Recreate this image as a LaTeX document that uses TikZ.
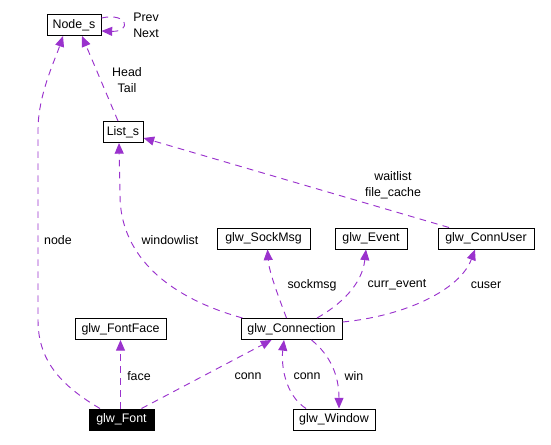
\documentclass[tikz,border=0pt]{standalone}
\usepackage{fontspec}
\setmainfont{Liberation Sans}
\usetikzlibrary{arrows.meta,calc}
\definecolor{edgec}{HTML}{9A32CD}
\begin{document}
\begin{tikzpicture}[x=0.75pt,y=-0.75pt,
  font=\fontsize{9.3}{12}\selectfont,
  cls/.style={draw=black,line width=0.75pt,fill=white,inner sep=0pt,minimum height=15.75pt,anchor=center},
  clsfocus/.style={cls,fill=black,text=white},
  rel/.style={draw=edgec,line width=0.7pt,dash pattern=on 5pt off 4pt,-{Triangle[length=8pt,width=6.75pt,fill=edgec]}},
  lbl/.style={inner sep=0pt,align=center}]
\useasboundingbox (0,0) rectangle (551,444);
% classes
\node[cls,minimum width=40.5pt] (Node_s) at (74,25) {Node\_s};
\node[cls,minimum width=30pt] (List_s) at (123,132) {List\_s};
\node[cls,minimum width=69.75pt] (glw_SockMsg) at (263.5,238.5) {glw\_SockMsg};
\node[cls,minimum width=54pt] (glw_Event) at (371,238.5) {glw\_Event};
\node[cls,minimum width=72pt] (glw_ConnUser) at (486,238.5) {glw\_ConnUser};
\node[cls,minimum width=68.25pt] (glw_FontFace) at (120.5,329) {glw\_FontFace};
\node[cls,minimum width=75.75pt] (glw_Connection) at (291.5,329) {glw\_Connection};
\node[clsfocus,minimum width=48.75pt] (glw_Font) at (121.5,419.5) {glw\_Font};
\node[cls,minimum width=61.5pt] (glw_Window) at (334,419.5) {glw\_Window};
% relations
\draw[rel] ($(Node_s.east)+(0,-7)$) .. controls (128,12) and (132,32) .. ($(Node_s.east)+(0,6)$);
\draw[rel] ($(List_s.north)+(-5,0)$) -- ($(Node_s.south)+(8,0)$);
\draw[rel] ($(glw_Font.north)+(-21.5,0)$) .. controls (60,385) and (38,360) .. (38,320) -- (38,130) .. controls (38,95) and (55,60) .. ($(Node_s.south)+(-11,0)$);
\draw[rel] ($(glw_Connection.north west)+(2,0)$) .. controls (160,295) and (120,250) .. (120,195) -- ($(List_s.south)+(-4,0)$);
\draw[rel] ($(glw_ConnUser.north)+(-37,0)$) -- ($(List_s.east)+(0,6)$);
\draw[rel] ($(glw_Connection.north)+(-5,0)$) .. controls (279,298) and (269,272) .. ($(glw_SockMsg.south)+(4,0)$);
\draw[rel] ($(glw_Connection.north)+(25.5,0)$) .. controls (340,305) and (362,285) .. ($(glw_Event.south)+(-5,0)$);
\draw[rel] ($(glw_Connection.east)+(0,-7)$) .. controls (405,316) and (460,290) .. ($(glw_ConnUser.south)+(-11,0)$);
\draw[rel] ($(glw_Font.north)+(-1,0)$) -- (glw_FontFace.south);
\draw[rel] ($(glw_Font.north)+(20,0)$) -- ($(glw_Connection.south)+(-20,0)$);
\draw[rel] ($(glw_Window.north)+(-28,0)$) .. controls (285,395) and (281,365) .. ($(glw_Connection.south)+(-7.5,0)$);
\draw[rel] ($(glw_Connection.south)+(20,0)$) .. controls (330,355) and (339,375) .. ($(glw_Window.north)+(5,0)$);
% labels
\node[lbl,align=left,anchor=west] (lPrevNext) at (133,25) {Prev\\Next};
\node[lbl] (lHeadTail) at (127,80) {Head\\Tail};
\node[lbl] (lnode) at (58,240) {node};
\node[lbl] (lwindowlist) at (170,240) {windowlist};
\node[lbl] (lwait) at (393,185.5) {waitlist\\file\_cache};
\node[lbl] (lsock) at (312,285) {sockmsg};
\node[lbl] (lcurr) at (397,285) {curr\_event};
\node[lbl] (lcuser) at (486,285) {cuser};
\node[lbl] (lface) at (139,376) {face};
\node[lbl] (lconn1) at (248,376) {conn};
\node[lbl] (lconn2) at (307,376) {conn};
\node[lbl] (lwin) at (354,376) {win};
\end{tikzpicture}
\end{document}
